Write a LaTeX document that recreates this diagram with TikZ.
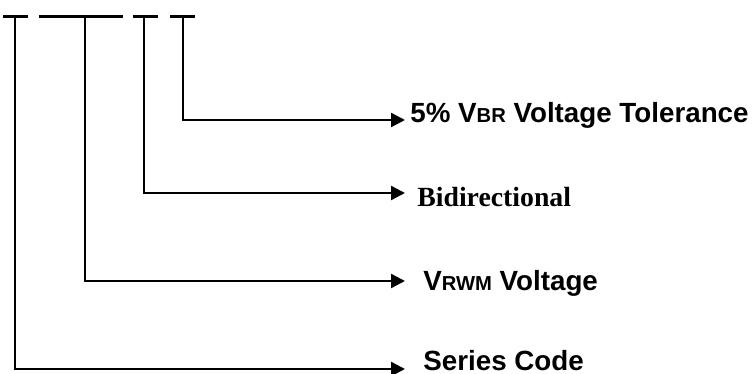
\documentclass[tikz,border=0pt]{standalone}
\usepackage{fontspec}
\setmainfont{Liberation Sans}
\newfontfamily\serifBold{Liberation Serif}
\usetikzlibrary{arrows.meta}

\tikzset{
  codeBar/.style={line width=0.065cm},
  leaderLine/.style={line width=0.045cm, -{Triangle[length=0.28cm, width=0.28cm]}},
  partLabel/.style={anchor=base west, inner sep=0pt, font=\fontsize{15.8}{18}\selectfont\bfseries},
}
\newcommand{\smallSub}[1]{{\fontsize{11.5}{13}\selectfont #1}}

\begin{document}
\begin{tikzpicture}[x=0.02cm, y=-0.02cm]
\useasboundingbox (0,0) rectangle (755,374);

% bars of the part number
\draw[codeBar] (3,16.5) -- (28,16.5);
\draw[codeBar] (39,16.5) -- (123,16.5);
\draw[codeBar] (133,16.5) -- (158,16.5);
\draw[codeBar] (170,16.5) -- (195,16.5);

\coordinate (seriesTop) at (15,16.5);
\coordinate (voltTop) at (85,16.5);
\coordinate (bidiTop) at (144,16.5);
\coordinate (tolTop) at (183,16.5);

\coordinate (tolEnd) at (405,120);
\coordinate (bidiEnd) at (405,193);
\coordinate (voltEnd) at (405,281);
\coordinate (seriesEnd) at (405,369);

\node[partLabel] (tolLabel) at (410,123) {5\% V\smallSub{BR} Voltage Tolerance};
\node[partLabel, font=\fontsize{15.8}{18}\selectfont\serifBold\bfseries] (bidiLabel) at (417,207) {Bidirectional};
\node[partLabel] (voltLabel) at (423,291) {V\smallSub{RWM} Voltage};
\node[partLabel] (seriesLabel) at (423,370.5) {Series Code};

\draw[leaderLine] (tolTop) |- (tolEnd);
\draw[leaderLine] (bidiTop) |- (bidiEnd);
\draw[leaderLine] (voltTop) |- (voltEnd);
\draw[leaderLine] (seriesTop) |- (seriesEnd);

\end{tikzpicture}
\end{document}
